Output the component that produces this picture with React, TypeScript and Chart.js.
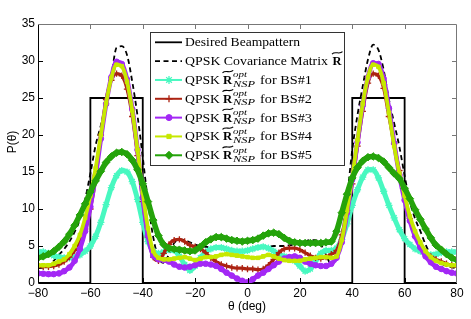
import React, { useEffect, useRef } from 'react';
import { Chart, registerables } from 'chart.js';
import { drawPoint } from 'chart.js/helpers';

Chart.register(...registerables);

// ---------------- data ----------------
const theta = [
  -80, -78, -76, -74, -72, -70, -68, -66, -64, -62,
  -60, -58, -56, -54, -52, -50, -48, -46, -44, -42,
  -40, -38, -36, -34, -32, -30, -28, -26, -24, -22,
  -20, -18, -16, -14, -12, -10, -8, -6, -4, -2,
  0, 2, 4, 6, 8, 10, 12, 14, 16, 18,
  20, 22, 24, 26, 28, 30, 32, 34, 36, 38,
  40, 42, 44, 46, 48, 50, 52, 54, 56, 58,
  60, 62, 64, 66, 68, 70, 72, 74, 76, 78,
  80,
];

const desiredTheta = [-80, -60, -60, -40, -40, 40, 40, 60, 60, 80];
const desiredP = [0, 0, 25, 25, 0, 0, 25, 25, 0, 0];

const covP = [
  2.0, 2.1, 2.4, 3.0, 3.8, 4.6, 5.6, 6.9, 8.6, 11.3,
  14.8, 18.6, 21.3, 24.3, 28.0, 31.8, 32.0, 30.8, 27.2, 22.6,
  17.0, 11.0, 6.2, 3.4, 2.7, 3.9, 5.4, 5.9, 5.8, 5.5,
  5.2, 5.0, 4.9, 4.8, 4.7, 4.6, 4.5, 4.5, 4.4, 4.4,
  4.4, 4.5, 4.6, 4.8, 4.9, 5.0, 5.0, 5.0, 5.1, 5.2,
  5.4, 5.6, 5.8, 5.8, 5.2, 3.8, 2.5, 3.5, 6.5, 11.5,
  18.0, 22.7, 26.6, 30.2, 32.2, 31.5, 28.8, 24.8, 21.6, 18.4,
  14.5, 11.0, 8.7, 7.0, 5.2, 3.8, 3.0, 2.6, 2.3, 2.1,
  2.0,
];

const bs1P = [
  4.2, 4.2, 4.0, 3.7, 3.5, 3.4, 3.4, 3.5, 3.8, 4.3,
  5.0, 6.3, 8.2, 10.6, 12.9, 14.5, 15.2, 15.0, 13.7, 11.3,
  8.2, 5.6, 4.3, 4.0, 4.2, 4.5, 4.4, 3.6, 2.5, 1.7,
  2.3, 3.4, 4.2, 4.6, 4.8, 4.8, 4.6, 4.4, 4.3, 4.3,
  4.4, 4.6, 4.8, 4.9, 4.7, 4.3, 3.9, 3.6, 3.4, 3.0,
  2.3, 1.6, 1.9, 3.0, 4.0, 4.4, 4.4, 4.7, 5.9, 8.0,
  10.5, 12.6, 14.3, 15.3, 15.3, 14.2, 12.4, 10.5, 8.8, 7.2,
  6.0, 5.2, 4.6, 4.3, 4.0, 3.8, 3.9, 4.1, 4.2, 4.2,
  4.2,
];

const bs2P = [
  2.2, 2.2, 2.2, 2.3, 2.5, 2.9, 3.5, 4.4, 5.5, 7.3,
  10.0, 14.0, 20.0, 24.8, 27.4, 28.3, 28.0, 26.2, 22.5, 17.2,
  11.0, 6.2, 3.5, 3.0, 4.0, 5.2, 5.8, 5.9, 5.6, 5.1,
  4.9, 4.6, 4.1, 3.4, 2.9, 2.5, 2.3, 2.1, 2.0, 2.0,
  1.9, 1.9, 1.8, 1.9, 2.4, 3.2, 4.1, 4.6, 4.7, 4.7,
  4.5, 4.1, 3.7, 3.4, 3.3, 3.5, 3.9, 4.4, 6.5, 9.8,
  13.4, 18.5, 23.2, 27.0, 28.3, 28.0, 26.3, 22.5, 18.8, 15.2,
  12.0, 8.7, 6.3, 4.9, 4.1, 3.6, 3.2, 2.9, 2.6, 2.4,
  2.2,
];

const bs3P = [
  1.3, 1.25, 1.2, 1.2, 1.3, 1.6, 2.1, 3.0, 4.6, 7.0,
  10.3, 14.5, 19.5, 24.2, 27.8, 29.9, 29.6, 27.5, 23.5, 18.0,
  11.5, 6.4, 3.7, 3.2, 3.1, 2.9, 2.5, 2.2, 2.1, 2.2,
  2.4, 2.6, 2.6, 2.5, 2.3, 1.9, 1.4, 1.0, 0.6, 0.3,
  0.1, 0.5, 1.0, 1.4, 1.9, 2.4, 2.9, 3.3, 3.5, 3.6,
  3.4, 2.9, 2.6, 2.4, 2.3, 2.3, 2.6, 3.4, 5.5, 9.5,
  14.0, 19.0, 24.0, 27.8, 29.7, 29.6, 27.6, 23.6, 18.9, 14.6,
  11.2, 8.4, 6.3, 4.8, 3.6, 2.8, 2.2, 1.9, 1.6, 1.4,
  1.3,
];

const bs4P = [
  2.4, 2.4, 2.4, 2.6, 2.9, 3.2, 3.9, 5.0, 6.5, 8.8,
  11.8, 15.5, 20.0, 24.3, 27.7, 29.5, 29.3, 27.2, 23.3, 18.0,
  12.2, 7.4, 4.3, 3.4, 3.2, 3.2, 3.3, 3.4, 3.5, 3.3,
  3.1, 3.3, 3.5, 3.5, 3.6, 3.8, 3.9, 3.8, 3.7, 3.6,
  3.5, 3.4, 3.4, 3.6, 3.8, 3.6, 3.3, 3.1, 3.0, 3.0,
  3.0, 3.2, 3.3, 3.4, 3.5, 3.5, 3.4, 3.6, 5.8, 9.8,
  14.3, 19.3, 24.2, 27.8, 29.5, 29.2, 27.0, 23.0, 18.5, 14.8,
  11.8, 9.0, 7.0, 5.5, 4.3, 3.5, 3.0, 2.7, 2.5, 2.4,
  2.4,
];

const bs5P = [
  3.4, 3.6, 3.9, 4.3, 4.9, 5.6, 6.6, 7.8, 9.2, 10.7,
  12.3, 13.8, 15.1, 16.3, 17.1, 17.6, 17.7, 17.4, 16.6, 15.3,
  13.4, 11.0, 8.5, 6.4, 5.2, 4.7, 4.6, 4.5, 4.4, 4.3,
  4.4, 4.9, 5.5, 5.9, 6.2, 6.2, 6.0, 5.8, 5.7, 5.6,
  5.7, 5.8, 6.0, 6.4, 6.7, 6.8, 6.6, 6.1, 5.7, 5.5,
  5.4, 5.4, 5.4, 5.4, 5.4, 5.5, 5.6, 7.0, 9.5, 12.0,
  14.2, 15.6, 16.5, 17.0, 17.1, 16.9, 16.4, 15.6, 14.8, 14.1,
  12.8, 11.4, 9.9, 8.6, 7.3, 6.1, 5.1, 4.5, 3.9, 3.4,
  3.1,
];

const xTicks = [-80, -60, -40, -20, 0, 20, 40, 60, 80];
const yTicks = [0, 5, 10, 15, 20, 25, 30, 35];

const bsNames = ['BS#1', 'BS#2', 'BS#3', 'BS#4', 'BS#5'];

// ---------------- styles ----------------
const SANS = '"Liberation Sans", Arial, Helvetica, sans-serif';
const SERIF = '"Liberation Serif", "DejaVu Serif", serif';
const CYAN = '#48f8c0';
const RED = '#ac2312';
const PURPLE = '#a328f5';
const YELLOW = '#c6e800';
const GREEN = '#25a30b';

const series = [
  { name: bsNames[0], data: bs1P, color: CYAN, width: 5, style: 'star', radius: 3.6, pbw: 1.3, legendRadius: 4 },
  { name: bsNames[1], data: bs2P, color: RED, width: 3.2, style: 'cross', radius: 3.2, pbw: 1.3, legendRadius: 3.5 },
  { name: bsNames[2], data: bs3P, color: PURPLE, width: 4.6, style: 'circle', radius: 2.8, pbw: 1, legendRadius: 3 },
  { name: bsNames[3], data: bs4P, color: YELLOW, width: 3.8, style: 'rect', radius: 2.5, pbw: 1, legendRadius: 3 },
  { name: bsNames[4], data: bs5P, color: GREEN, width: 5.6, style: 'rectRot', radius: 3.8, pbw: 1, legendRadius: 4 },
];

const fmt = (v: number) => (v < 0 ? '\u2212' + Math.abs(v) : String(v));

function fitText(ctx: CanvasRenderingContext2D, text: string, x: number, y: number, font: string, width?: number) {
  ctx.font = font;
  const w = ctx.measureText(text).width;
  if (width && w > 0) {
    ctx.save();
    ctx.translate(x, y);
    ctx.scale(width / w, 1);
    ctx.fillText(text, 0, 0);
    ctx.restore();
    return width;
  }
  ctx.fillText(text, x, y);
  return w;
}

function drawTildeR(ctx: CanvasRenderingContext2D, x: number, base: number, w: number) {
  ctx.fillStyle = '#000';
  fitText(ctx, 'R', x, base, 'bold 13px ' + SERIF, w);
  const yc = base - 12.3;
  const x0 = x - 0.5;
  const tw = w + 1.5;
  ctx.save();
  ctx.strokeStyle = '#000';
  ctx.lineWidth = 1.1;
  ctx.beginPath();
  ctx.moveTo(x0, yc + 1.2);
  ctx.bezierCurveTo(x0 + tw * 0.3, yc - 2.2, x0 + tw * 0.7, yc + 2.2, x0 + tw, yc - 1.2);
  ctx.stroke();
  ctx.restore();
}

const matlabPlugin = {
  id: 'matlabFrame',
  afterDatasetsDraw(chart: any) {
    const { ctx, chartArea: a, scales } = chart;
    const xs = scales.x;
    const ys = scales.y;
    ctx.save();
    ctx.lineWidth = 1;
    // frame
    ctx.strokeStyle = '#000';
    ctx.beginPath();
    ctx.moveTo(a.left + 0.5, a.top);
    ctx.lineTo(a.left + 0.5, a.bottom + 0.5);
    ctx.lineTo(a.right, a.bottom + 0.5);
    ctx.stroke();
    ctx.strokeStyle = '#777';
    ctx.beginPath();
    ctx.moveTo(a.left, a.top + 0.5);
    ctx.lineTo(a.right - 0.5, a.top + 0.5);
    ctx.lineTo(a.right - 0.5, a.bottom);
    ctx.stroke();
    // inner ticks
    const L = 5;
    xs.ticks.forEach((t: any) => {
      if (t.value === xs.min || t.value === xs.max) return;
      const px = Math.round(xs.getPixelForValue(t.value)) + 0.5;
      ctx.strokeStyle = '#000';
      ctx.beginPath();
      ctx.moveTo(px, a.bottom);
      ctx.lineTo(px, a.bottom - L);
      ctx.stroke();
      ctx.strokeStyle = '#777';
      ctx.beginPath();
      ctx.moveTo(px, a.top);
      ctx.lineTo(px, a.top + L);
      ctx.stroke();
    });
    ys.ticks.forEach((t: any) => {
      if (t.value === ys.min || t.value === ys.max) return;
      const py = Math.round(ys.getPixelForValue(t.value)) + 0.5;
      ctx.strokeStyle = '#000';
      ctx.beginPath();
      ctx.moveTo(a.left, py);
      ctx.lineTo(a.left + L, py);
      ctx.stroke();
      ctx.strokeStyle = '#777';
      ctx.beginPath();
      ctx.moveTo(a.right, py);
      ctx.lineTo(a.right - L, py);
      ctx.stroke();
    });
    ctx.restore();
  },
  afterDraw(chart: any) {
    const ctx: CanvasRenderingContext2D = chart.ctx;
    ctx.save();
    // axis titles
    ctx.fillStyle = '#000';
    ctx.font = '12px ' + SANS;
    ctx.textAlign = 'center';
    ctx.textBaseline = 'middle';
    ctx.fillText('\u03b8 (deg)', 247, 306.5);
    ctx.save();
    ctx.translate(13, 142);
    ctx.rotate(-Math.PI / 2);
    ctx.fillText('P(\u03b8)', 0, 0);
    ctx.restore();

    // legend box
    const BL = 150.5, BT = 32.5, BR = 344.5, BB = 165.5;
    ctx.fillStyle = '#fff';
    ctx.fillRect(BL, BT, BR - BL, BB - BT);
    ctx.strokeStyle = '#333';
    ctx.lineWidth = 1;
    ctx.strokeRect(BL, BT, BR - BL, BB - BT);

    const rowY = (i: number) => 42.3 + i * 18.83;
    const lx0 = 155, lx1 = 182, mx = 169;
    ctx.textAlign = 'left';
    ctx.textBaseline = 'alphabetic';

    // row 0: desired
    let y = rowY(0);
    ctx.strokeStyle = '#000';
    ctx.lineWidth = 1.8;
    ctx.beginPath(); ctx.moveTo(lx0, y); ctx.lineTo(lx1, y); ctx.stroke();
    ctx.fillStyle = '#000';
    fitText(ctx, 'Desired Beampattern', 185, y + 4, '13px ' + SERIF, 115);

    // row 1: covariance
    y = rowY(1);
    ctx.strokeStyle = '#000';
    ctx.lineWidth = 1.8;
    ctx.setLineDash([5, 3.5]);
    ctx.beginPath(); ctx.moveTo(lx0, y); ctx.lineTo(lx1, y); ctx.stroke();
    ctx.setLineDash([]);
    ctx.fillStyle = '#000';
    fitText(ctx, 'QPSK Covariance Matrix', 185, y + 4, '13px ' + SERIF, 143);
    drawTildeR(ctx, 332.5, y + 4, 9);

    // rows 2..6
    series.forEach((s, i) => {
      const yy = rowY(i + 2);
      ctx.strokeStyle = s.color;
      ctx.fillStyle = s.color;
      ctx.lineWidth = 2;
      ctx.beginPath(); ctx.moveTo(lx0, yy); ctx.lineTo(lx1, yy); ctx.stroke();
      ctx.lineWidth = s.pbw;
      drawPoint(ctx, { pointStyle: s.style as any, radius: s.legendRadius, borderWidth: s.pbw, rotation: 0 } as any, mx, yy);
      const base = yy + 4;
      ctx.fillStyle = '#000';
      fitText(ctx, 'QPSK', 185, base, '13px ' + SERIF, 35);
      drawTildeR(ctx, 223, base, 9.2);
      fitText(ctx, 'opt', 233, yy - 2.6, 'italic 8.5px ' + SERIF, 14);
      fitText(ctx, 'NSP', 233, yy + 6.6, 'italic 9px ' + SERIF, 22);
      fitText(ctx, 'for ' + s.name, 260, base, '13px ' + SERIF, 52);
    });
    ctx.restore();
  },
};

export default function App() {
  const ref = useRef<HTMLCanvasElement>(null);
  useEffect(() => {
    const canvas = ref.current;
    if (!canvas) return;
    const pts = (ys: number[]) => theta.map((t, i) => ({ x: t, y: ys[i] }));
    const datasets: any[] = [
      {
        label: 'Desired Beampattern',
        data: desiredTheta.map((t, i) => ({ x: t, y: desiredP[i] })),
        borderColor: '#000',
        borderWidth: 1.8,
        pointRadius: 0,
        tension: 0,
        order: 6,
      },
      {
        label: 'QPSK Covariance Matrix',
        data: pts(covP),
        borderColor: '#000',
        borderWidth: 1.8,
        borderDash: [5, 3.5],
        pointRadius: 0,
        cubicInterpolationMode: 'monotone',
        order: 5,
      },
      ...series.map((s, i) => ({
        label: 'QPSK ' + s.name,
        data: pts(s.data),
        borderColor: s.color,
        backgroundColor: s.color,
        borderWidth: s.width,
        borderJoinStyle: 'round',
        borderCapStyle: 'round',
        pointStyle: s.style,
        pointRadius: s.radius,
        pointBorderWidth: s.pbw,
        pointBackgroundColor: s.color,
        pointBorderColor: s.color,
        cubicInterpolationMode: 'monotone',
        order: 4 - i,
      })),
    ];
    const chart = new Chart(canvas, {
      type: 'line',
      data: { datasets },
      options: {
        animation: false,
        responsive: false,
        events: [],
        layout: { padding: { left: 0, top: 24, right: 14, bottom: 0 } },
        plugins: { legend: { display: false }, tooltip: { enabled: false } },
        scales: {
          x: {
            type: 'linear',
            min: -80,
            max: 80,
            afterBuildTicks: (s: any) => { s.ticks = xTicks.map((v) => ({ value: v })); },
            afterFit: (s: any) => { s.height = 36; },
            grid: { display: false, drawTicks: false },
            border: { display: false },
            ticks: {
              color: '#000',
              font: { family: SANS, size: 12 },
              padding: 3,
              maxRotation: 0,
              autoSkip: false,
              callback: (v: any) => fmt(Number(v)),
            },
          },
          y: {
            type: 'linear',
            min: 0,
            max: 35,
            afterBuildTicks: (s: any) => { s.ticks = yTicks.map((v) => ({ value: v })); },
            afterFit: (s: any) => { s.width = 38; },
            grid: { display: false, drawTicks: false },
            border: { display: false },
            ticks: {
              color: '#000',
              font: { family: SANS, size: 12 },
              padding: 3,
              autoSkip: false,
              callback: (v: any) => fmt(Number(v)),
            },
          },
        },
      } as any,
      plugins: [matlabPlugin as any],
    });
    return () => chart.destroy();
  }, []);
  return (
    <div style={{ position: 'fixed', left: 0, top: 0, width: 471, height: 319, background: '#fff' }}>
      <canvas ref={ref} width={471} height={319} style={{ width: 471, height: 319, display: 'block' }} />
    </div>
  );
}
